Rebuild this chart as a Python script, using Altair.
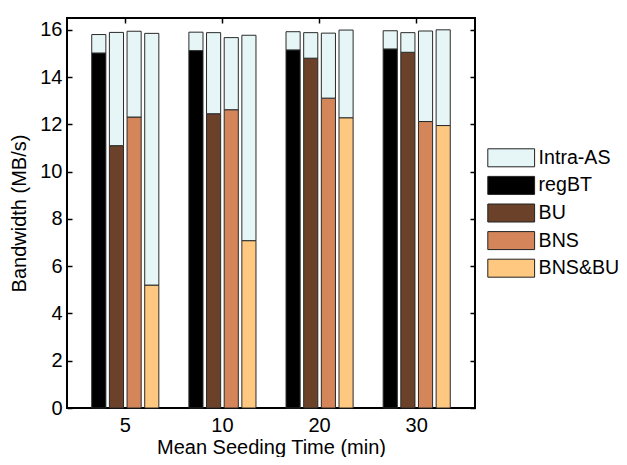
import altair as alt
import pandas as pd

groups = ["5", "10", "20", "30"]
series = ["regBT", "BU", "BNS", "BNS&BU"]

# base (coloured) segment of each bar, per group
regbt = [15.02, 15.12, 15.15, 15.19]
bu = [11.10, 12.45, 14.80, 15.05]
bns = [12.31, 12.62, 13.11, 12.12]
bnsbu = [5.20, 7.08, 12.28, 11.95]

# Intra-AS segment stacked on top, per group
intra_regbt = [0.78, 0.78, 0.77, 0.77]
intra_bu = [4.79, 3.43, 1.08, 0.83]
intra_bns = [3.63, 3.05, 2.75, 3.83]
intra_bnsbu = [10.65, 8.69, 3.71, 4.05]

y_ticks = [0, 2, 4, 6, 8, 10, 12, 14, 16]
legend_order = ["Intra-AS", "regBT", "BU", "BNS", "BNS&BU"]
colors = ["#E6F6F6", "#000000", "#6B4229", "#D4865A", "#FFC880"]

bases = {"regBT": regbt, "BU": bu, "BNS": bns, "BNS&BU": bnsbu}
intras = {"regBT": intra_regbt, "BU": intra_bu, "BNS": intra_bns, "BNS&BU": intra_bnsbu}

rows = []
for gi, g in enumerate(groups):
    for s in series:
        b = bases[s][gi]
        t = intras[s][gi]
        rows.append({"group": g, "series": s, "key": s, "y0": 0.0, "y1": b})
        rows.append({"group": g, "series": s, "key": "Intra-AS", "y0": b, "y1": b + t})
df = pd.DataFrame(rows)

FONT = "Liberation Sans"
xscale = alt.Scale(paddingInner=0.273, paddingOuter=0.2365)
oscale = alt.Scale(paddingInner=0.2, paddingOuter=0.1)
yscale = alt.Scale(domain=[0, 16.5], nice=False)

xoff = alt.XOffset("series:N", sort=series, scale=oscale)

main = alt.Chart(df).mark_bar(stroke="#2a2a2a", strokeWidth=1).encode(
    x=alt.X("group:N", sort=groups, scale=xscale,
            axis=alt.Axis(title="Mean Seeding Time (min)", labelAngle=0, ticks=False,
                          domain=False, labelPadding=7, titlePadding=2)),
    xOffset=xoff,
    y=alt.Y("y0:Q", scale=yscale,
            axis=alt.Axis(title="Bandwidth (MB/s)", values=y_ticks, ticks=False,
                          domain=False, grid=False, labelPadding=5, titlePadding=10)),
    y2="y1:Q",
    color=alt.Color("key:N", scale=alt.Scale(domain=legend_order, range=colors),
                    legend=alt.Legend(orient="none", legendX=420, legendY=130, title=None,
                                      symbolType="M-1,-1H4.2V1H-1Z", symbolSize=324,
                                      symbolStrokeColor="#222222", symbolStrokeWidth=1,
                                      symbolOpacity=1, labelFontSize=19.6, labelOffset=32,
                                      rowPadding=4.6, labelFont=FONT, labelColor="#000000")),
)

ticks_a = alt.Chart(df).mark_bar(opacity=0).encode(
    x=alt.X("group:N", sort=groups, scale=xscale,
            axis=alt.Axis(orient="top", offset=-5, labels=False, ticks=True, tickSize=5,
                          domain=False, title=None, grid=False)),
    xOffset=xoff,
    y=alt.Y("y0:Q", scale=yscale,
            axis=alt.Axis(orient="left", offset=-5, labels=False, values=y_ticks, ticks=True,
                          tickSize=5, domain=False, title=None, grid=False)),
    y2="y1:Q",
)

ticks_b = alt.Chart(df).mark_bar(opacity=0).encode(
    x=alt.X("group:N", sort=groups, scale=xscale, axis=None),
    xOffset=xoff,
    y=alt.Y("y0:Q", scale=yscale,
            axis=alt.Axis(orient="right", offset=-5, labels=False, values=y_ticks, ticks=True,
                          tickSize=5, domain=False, title=None, grid=False)),
    y2="y1:Q",
)

chart = alt.layer(main, ticks_a, ticks_b).resolve_axis(
    x="independent", y="independent"
).properties(
    width=408, height=390,
    autosize=alt.AutoSizeParams(type="none"),
    padding={"left": 59, "top": 10, "right": 144, "bottom": 49},
).configure_view(
    stroke="#000000", strokeWidth=2
).configure_axis(
    labelFont=FONT, titleFont=FONT, labelFontSize=20, titleFontSize=20,
    labelColor="#000000", titleColor="#000000", titleFontWeight="normal",
    tickColor="#000000", tickWidth=1.5, grid=False,
)

chart.save("out.html", embed_options={"renderer": "svg", "actions": False})
